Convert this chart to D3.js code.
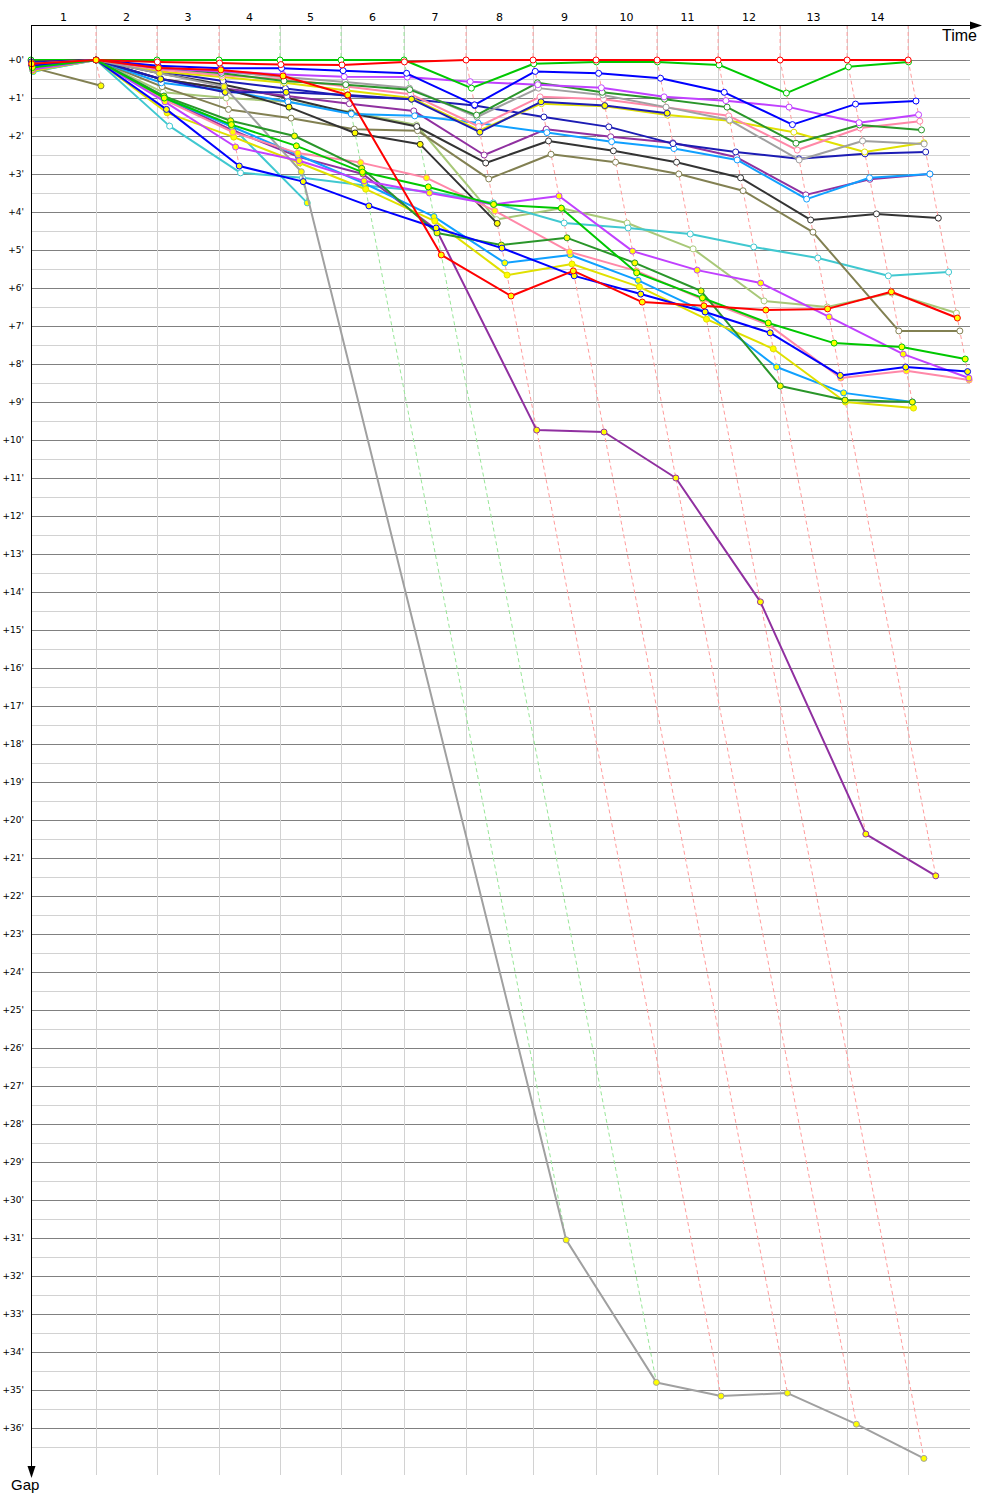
<!DOCTYPE html>
<html>
<head>
<meta charset="utf-8">
<script src="https://cdn.jsdelivr.net/npm/d3@7"></script>
<style>
  body { margin: 0; background: #fff; }
  text { font-family: "DejaVu Sans", sans-serif; }
</style>
</head>
<body>
<div id="chart"></div>
<script>
// lap numbers shown along the top
const lapLabels = ['1', '2', '3', '4', '5', '6', '7', '8', '9', '10', '11', '12', '13', '14'];
// leader's lap durations, minutes
const leaderLapMinutes = [8.97, 8.41, 8.55, 8.41, 8.42, 8.69, 8.55, 9.24, 8.69, 8.41, 8.42, 8.55, 9.24, 8.42];
// laps run under neutralisation (green lap marks)
const neutralLaps = [4, 5, 6];
const gapTicks = [0, 1, 2, 3, 4, 5, 6, 7, 8, 9, 10, 11, 12, 13, 14, 15, 16, 17, 18,
  19, 20, 21, 22, 23, 24, 25, 26, 27, 28, 29, 30, 31, 32, 33, 34, 35, 36];

// gap to leader (minutes) at the end of lap 0..14, null = not running
const red1 = [0.05, 0, 0.05, 0.08, 0.12, 0.13, 0.05, 0, 0, 0, 0, 0, 0, 0, 0];
const green1 = [0, 0, 0, 0, 0, 0, 0, 0.74, 0.1, 0.05, 0.05, 0.13, 0.87, 0.18, 0.05];
const blue1 = [0.1, 0, 0.15, 0.22, 0.22, 0.28, 0.35, 1.18, 0.3, 0.35, 0.48, 0.85, 1.7, 1.16, 1.08];
const violet1 = [0.15, 0, 0.22, 0.3, 0.38, 0.44, 0.45, 0.57, 0.65, 0.73, 0.97, 1.07, 1.24, 1.65, 1.44];
const darkgreen1 = [0.12, 0, 0.2, 0.35, 0.55, 0.65, 0.78, 1.45, 0.6, 0.85, 1.03, 1.24, 2.19, 1.71, 1.84];
const gray1 = [0.2, 0, 0.2, 0.3, 0.45, 0.58, 0.74, 1.5, 0.74, 0.92, 1.24, 1.58, 2.63, 2.13, 2.21];
const pink1 = [0.18, 0, 0.25, 0.4, 0.5, 0.7, 0.9, 1.75, 0.97, 1.03, 1.25, 1.47, 2.37, 1.79, 1.61];
const yellow1 = [0.2, 0, 0.3, 0.45, 0.6, 0.8, 1.0, 1.85, 1.15, 1.22, 1.45, 1.6, 1.9, 2.42, 2.18];
const navy1 = [0.08, 0, 0.3, 0.55, 0.75, 0.95, 1.03, 1.2, 1.5, 1.76, 2.2, 2.42, 2.6, 2.47, 2.42];
const lightblue1 = [0.25, 0, 0.6, 0.8, 1.1, 1.42, 1.47, 1.66, 1.91, 2.15, 2.33, 2.63, 3.66, 3.1, 3.0];
const purple1 = [0.1, 0, 0.5, 0.75, 0.95, 1.15, 1.34, 2.5, 1.82, 2.02, 2.18, 2.56, 3.55, 3.14, 3.0];
const darkgray1 = [0.05, 0, 0.35, 0.65, 1.0, 1.4, 1.75, 2.71, 2.13, 2.39, 2.69, 3.1, 4.21, 4.05, 4.16];
const olive1 = [0.15, 0, 0.7, 1.3, 1.53, 1.82, 1.86, 3.13, 2.48, 2.69, 3.0, 3.44, 4.53, 7.13, 7.13];
const cyan1 = [0.3, 0, 1.74, 2.97, 3.1, 3.3, 3.47, 3.76, 4.29, 4.42, 4.58, 4.92, 5.21, 5.68, 5.58];
const lightolive1 = [0.22, 0, 0.85, 1.0, 1.1, 1.37, 1.71, 4.2, 3.9, 4.29, 4.97, 6.34, 6.5, 6.13, 6.66];

const red2 = [0.1, 0, 0.21, 0.26, 0.42, 0.92, 5.13, 6.21, 5.55, 6.37, 6.47, 6.58, 6.55, 6.1, 6.79];
const green2 = [0.2, 0, 1.0, 1.7, 2.26, 2.95, 3.34, 3.8, 3.9, 5.6, 6.26, 6.92, 7.45, 7.55, 7.87];
const blue2 = [0.15, 0, 1.3, 2.79, 3.2, 3.84, 4.42, 4.95, 5.68, 6.16, 6.63, 7.18, 8.3, 8.08, 8.2];
const violet2 = [0.25, 0, 1.1, 2.29, 2.65, 3.18, 3.5, 3.8, 3.58, 5.03, 5.53, 5.87, 6.76, 7.74, 8.37];
const darkgreen2 = [0.18, 0, 0.95, 1.6, 2.0, 2.85, 4.55, 4.87, 4.68, 5.34, 6.08, 8.58, 8.95, 9.0, null];
const gray2 = [0.1, 0, 0.35, 0.7, 2.94, 31.05, 34.8, 35.16, 35.08, 35.9, 36.8, null, null, null, null];
const pink2 = [0.22, 0, 1.05, 1.9, 2.45, 2.7, 3.1, 3.97, 5.05, 5.55, 6.3, 6.97, 8.37, 8.18, 8.42];
const yellow2 = [0.28, 0, 1.39, 2.03, 2.71, 3.4, 4.24, 5.66, 5.37, 5.97, 6.82, 7.6, 9.0, 9.16, null];
const navy2 = [0.05, 0, 0.5, 0.85, 0.85, 0.92, 1.03, 1.9, 1.1, 1.2, 1.4, null, null, null, null];
const lightblue2 = [0.2, 0, 1.0, 1.75, 2.5, 3.25, 4.12, 5.34, 5.13, 5.8, 6.63, 8.08, 8.76, 9.0, null];
const purple2 = [0.12, 0, 1.0, 1.85, 2.55, 3.0, 4.47, 9.74, 9.79, 11.0, 14.26, 20.37, 21.47, null, null];
const darkgray2 = [0.08, 0, 0.5, 0.75, 1.24, 1.92, 2.22, 4.3, null, null, null, null, null, null, null];
const olive2 = [0.2, 0.68, null, null, null, null, null, null, null, null, null, null, null, null, null];
const cyan2 = [0.3, 0, 0.95, 1.75, 3.76, null, null, null, null, null, null, null, null, null, null];

const classA = [
  ['lightolive', lightolive1], ['cyan', cyan1], ['olive', olive1], ['darkgray', darkgray1],
  ['purple', purple1], ['lightblue', lightblue1], ['navy', navy1], ['yellow', yellow1],
  ['pink', pink1], ['gray', gray1], ['darkgreen', darkgreen1], ['violet', violet1],
  ['blue', blue1], ['green', green1], ['red', red1],
];
const classB = [
  ['cyan', cyan2], ['olive', olive2], ['darkgray', darkgray2], ['purple', purple2],
  ['lightblue', lightblue2], ['navy', navy2], ['yellow', yellow2], ['pink', pink2],
  ['gray', gray2], ['darkgreen', darkgreen2], ['violet', violet2], ['blue', blue2],
  ['green', green2], ['red', red2],
];

const colors = {
  red: '#ff0000', green: '#00c800', blue: '#0000ff', violet: '#c040ff',
  darkgreen: '#2a962a', gray: '#a0a0a0', pink: '#ff88a8', yellow: '#e0e000',
  navy: '#1c1cb4', lightblue: '#10a0ff', purple: '#9030a0', darkgray: '#333333',
  olive: '#828052', cyan: '#40c8d0', lightolive: '#a8c878',
};

const Chart = {};

Chart.config = function config() {
  const vm = this;
  vm.left = 31;
  vm.right = 970;
  vm.top = 25;
  vm.zeroY = 60;
  vm.bottom = 1475;
  vm.leaderTimes = [0];
  leaderLapMinutes.forEach((m, i) => vm.leaderTimes.push(vm.leaderTimes[i] + m));
  vm.x = d3.scaleLinear().domain([0, 129.5]).range([vm.left, vm.right]);
  vm.y = d3.scaleLinear().domain([0, 37]).range([vm.zeroY, vm.zeroY + 37 * 38]);
};

Chart.draw = function draw() {
  const vm = this;
  const svg = d3.select('#chart').append('svg')
    .attr('width', 1000)
    .attr('height', 1500);

  // horizontal grid, every half minute
  const halfSteps = d3.range(0, 36.51, 0.5);
  svg.append('g').selectAll('line')
    .data(halfSteps)
    .enter().append('line')
    .attr('x1', vm.left)
    .attr('x2', vm.right)
    .attr('y1', d => vm.y(d) + 0.5)
    .attr('y2', d => vm.y(d) + 0.5)
    .attr('stroke', d => (d % 1 === 0 ? '#808080' : '#d2d2d2'))
    .attr('stroke-width', 1);

  // vertical grid at the leader's lap times
  const lapEnds = vm.leaderTimes.slice(1);
  svg.append('g').selectAll('line')
    .data(lapEnds)
    .enter().append('line')
    .attr('x1', d => Math.round(vm.x(d)) + 0.5)
    .attr('x2', d => Math.round(vm.x(d)) + 0.5)
    .attr('y1', vm.top)
    .attr('y2', vm.bottom)
    .attr('stroke', '#d2d2d2');

  // lap marks: same lap for everyone, slanting with the gap
  const allSeries = classA.concat(classB);
  const lapMarks = lapEnds.map((t, i) => {
    const lap = i + 1;
    const maxGap = d3.max(allSeries, s => s[1][lap]);
    return { lap, t, maxGap };
  });
  svg.append('g').selectAll('path')
    .data(lapMarks)
    .enter().append('path')
    .attr('d', d => `M${vm.x(d.t)},${vm.top}L${vm.x(d.t)},${vm.y(0)}L${vm.x(d.t + d.maxGap)},${vm.y(d.maxGap)}`)
    .attr('fill', 'none')
    .attr('stroke', d => (neutralLaps.includes(d.lap) ? '#98e698' : '#ff9c9c'))
    .attr('stroke-width', 1)
    .attr('stroke-dasharray', '4,3');

  // y tick labels
  svg.append('g').selectAll('text')
    .data(gapTicks)
    .enter().append('text')
    .attr('x', 24)
    .attr('y', d => vm.y(d) + 3)
    .attr('text-anchor', 'end')
    .style('font-size', '9px')
    .text(d => `+${d}'`);

  // lap labels between lap times
  svg.append('g').selectAll('text')
    .data(lapLabels)
    .enter().append('text')
    .attr('x', (d, i) => vm.x((vm.leaderTimes[i] + vm.leaderTimes[i + 1]) / 2))
    .attr('y', 21)
    .attr('text-anchor', 'middle')
    .style('font-size', '11px')
    .text(d => d);

  // series
  const line = d3.line()
    .defined(d => d.gap !== null)
    .x(d => vm.x(d.t + d.gap))
    .y(d => vm.y(d.gap));

  const drawClass = (list, fill) => {
    list.forEach(([name, gaps]) => {
      const pts = gaps.map((gap, lap) => ({ gap, t: vm.leaderTimes[lap] }));
      const g = svg.append('g');
      g.append('path')
        .datum(pts)
        .attr('d', line)
        .attr('fill', 'none')
        .attr('stroke', colors[name])
        .attr('stroke-width', 2)
        .attr('stroke-linejoin', 'round');
      g.selectAll('circle')
        .data(pts.filter(p => p.gap !== null))
        .enter().append('circle')
        .attr('cx', d => vm.x(d.t + d.gap))
        .attr('cy', d => vm.y(d.gap))
        .attr('r', 3)
        .attr('fill', fill)
        .attr('stroke', colors[name])
        .attr('stroke-width', 1);
    });
  };
  drawClass(classA, '#ffffff');
  drawClass(classB, '#ffff00');

  // axes with arrows
  svg.append('line')
    .attr('x1', vm.left).attr('x2', 972)
    .attr('y1', vm.top + 0.5).attr('y2', vm.top + 0.5)
    .attr('stroke', '#000');
  svg.append('path')
    .attr('d', `M982,${vm.top + 0.5}L970,${vm.top - 3.5}L970,${vm.top + 4.5}Z`)
    .attr('fill', '#000');
  svg.append('line')
    .attr('x1', vm.left + 0.5).attr('x2', vm.left + 0.5)
    .attr('y1', vm.top).attr('y2', 1468)
    .attr('stroke', '#000');
  svg.append('path')
    .attr('d', `M${vm.left + 0.5},1478L${vm.left - 3.5},1466L${vm.left + 4.5},1466Z`)
    .attr('fill', '#000');

  svg.append('text')
    .attr('x', 977).attr('y', 41)
    .attr('text-anchor', 'end')
    .style('font-family', '"Liberation Sans", sans-serif')
    .style('font-size', '16px')
    .text('Time');
  svg.append('text')
    .attr('x', 11).attr('y', 1490)
    .style('font-family', '"Liberation Sans", sans-serif')
    .style('font-size', '15px')
    .text('Gap');
};

Chart.config();
Chart.draw();
</script>
</body>
</html>
